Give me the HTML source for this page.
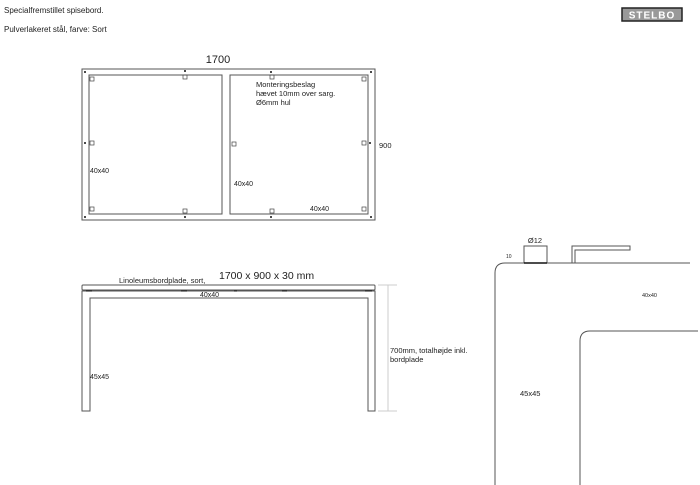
<!DOCTYPE html><html><head><style>body{margin:0;background:#fff}svg{display:block}text{font-family:"Liberation Sans",sans-serif;fill:#222}</style></head><body>
<svg width="700" height="485" xmlns="http://www.w3.org/2000/svg">
<text x="4" y="13" font-size="8">Specialfremstillet spisebord.</text>
<text x="4" y="32" font-size="8">Pulverlakeret stål, farve: Sort</text>
<rect x="622" y="8" width="60" height="13" fill="#999" stroke="#222" stroke-width="1.5"/>
<text x="652" y="18.5" font-size="10" font-weight="bold" text-anchor="middle" style="fill:#fff" letter-spacing="1">STELBO</text>
<text x="218" y="63" font-size="11" text-anchor="middle">1700</text>
<g fill="none" stroke="#555" stroke-width="1">
<rect x="82" y="69" width="293" height="151"/>
<rect x="89" y="75" width="133" height="139"/>
<rect x="230" y="75" width="138" height="139"/>
</g>
<g fill="none" stroke="#444" stroke-width="0.7">
<rect x="90" y="77" width="4" height="4"/><rect x="183" y="75" width="4" height="4"/><rect x="90" y="141" width="4" height="4"/><rect x="90" y="207" width="4" height="4"/><rect x="183" y="209" width="4" height="4"/>
<rect x="270" y="75" width="4" height="4"/><rect x="362" y="77" width="4" height="4"/><rect x="362" y="141" width="4" height="4"/><rect x="232" y="142" width="4" height="4"/><rect x="270" y="209" width="4" height="4"/><rect x="362" y="207" width="4" height="4"/>
</g>
<g fill="#111">
<circle cx="85" cy="72" r="1"/><circle cx="185" cy="71" r="1"/><circle cx="271" cy="72" r="1"/><circle cx="371" cy="72" r="1"/>
<circle cx="85" cy="217" r="1"/><circle cx="185" cy="217" r="1"/><circle cx="271" cy="217" r="1"/><circle cx="371" cy="217" r="1"/>
<circle cx="85" cy="143" r="1"/><circle cx="370" cy="143" r="1"/>
</g>
<text x="256" y="87" font-size="7.5">Monteringsbeslag</text>
<text x="256" y="96" font-size="7.5">hævet 10mm over sarg.</text>
<text x="256" y="105" font-size="7.5">Ø6mm hul</text>
<text x="90" y="173" font-size="7">40x40</text>
<text x="234" y="186" font-size="7">40x40</text>
<text x="310" y="211" font-size="7">40x40</text>
<text x="379" y="148" font-size="7.5">900</text>
<text x="219" y="279" font-size="10.5">1700 x 900 x 30 mm</text>
<text x="119" y="283" font-size="7.5">Linoleumsbordplade, sort,</text>
<rect x="82" y="285" width="293" height="5" rx="1" fill="none" stroke="#555"/>
<path d="M82,411 V291 H375 V411 H368 V298 H90 V411 Z" fill="none" stroke="#555"/>
<g stroke="#111" stroke-width="1"><line x1="86" y1="291" x2="92" y2="291"/><line x1="181" y1="291" x2="187" y2="291"/><line x1="234" y1="291" x2="237" y2="291"/><line x1="282" y1="291" x2="287" y2="291"/><line x1="365" y1="291" x2="372" y2="291"/></g>
<text x="200" y="297" font-size="7">40x40</text>
<text x="90" y="379" font-size="7">45x45</text>
<g stroke="#ccc"><line x1="388" y1="285" x2="388" y2="411"/><line x1="378" y1="285" x2="397" y2="285"/><line x1="378" y1="411" x2="397" y2="411"/></g>
<text x="390" y="353" font-size="7.5">700mm, totalhøjde inkl.</text>
<text x="390" y="362" font-size="7.5">bordplade</text>
<g fill="none" stroke="#555" stroke-width="1">
<path d="M495,485 V273 Q495,263 505,263 H690"/>
<path d="M580,485 V341 Q580,331 590,331 H698"/>
<rect x="524" y="246" width="23" height="17"/>
<path d="M572,263 V246 H630 V250 H575 V263"/>
</g>
<line x1="524" y1="263" x2="547" y2="263" stroke="#111" stroke-width="1.5"/>
<text x="535" y="243" font-size="7.5" text-anchor="middle">Ø12</text>
<text x="506" y="258" font-size="5">10</text>
<text x="642" y="297" font-size="5.5">40x40</text>
<text x="520" y="396" font-size="7.5">45x45</text>
</svg></body></html>
